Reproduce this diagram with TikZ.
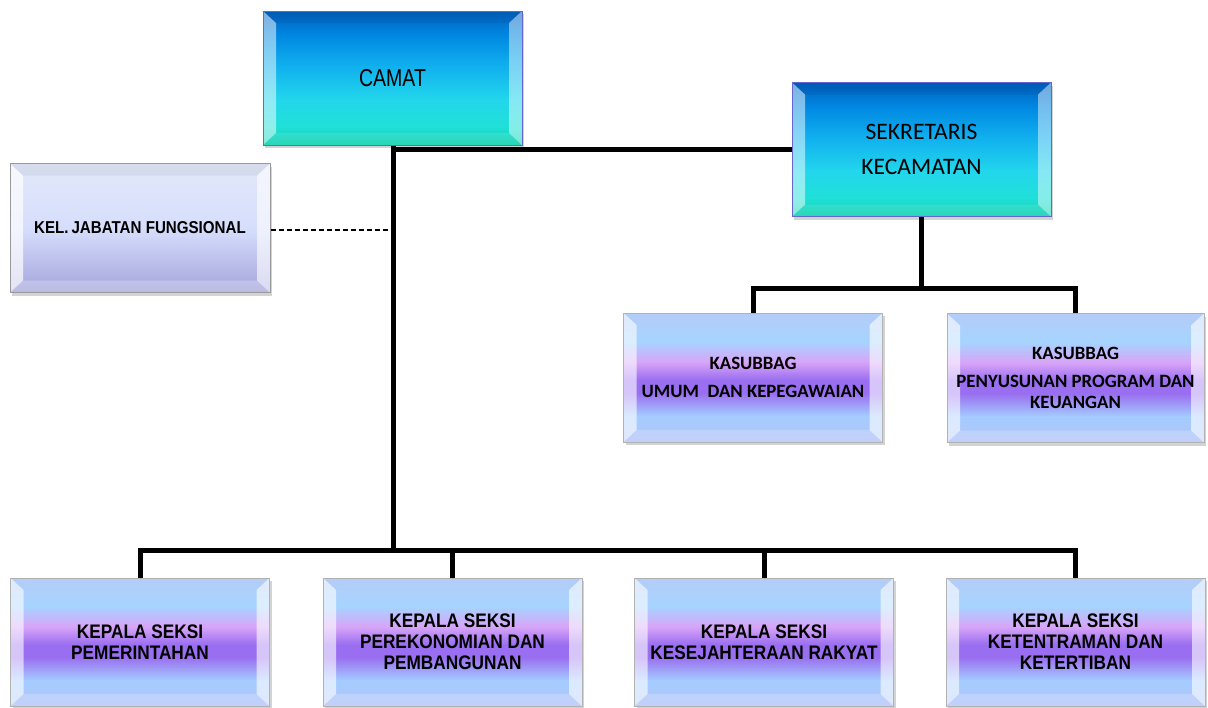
\documentclass[tikz,border=0pt]{standalone}
\usepackage{fontspec}
\setmainfont{Liberation Sans}
\newfontfamily\arialn[FakeStretch=0.8]{Liberation Sans}
\newfontfamily\arialbn[FakeStretch=0.88]{Liberation Sans Bold}
\newfontfamily\calib{Carlito}
\newfontfamily\calibb{Carlito Bold}
\usetikzlibrary{calc,shadows}
\definecolor{bB1}{HTML}{12D2AE}
\definecolor{bB2}{HTML}{20E0D8}
\definecolor{bB3}{HTML}{22D6EC}
\definecolor{bB4}{HTML}{10AEEE}
\definecolor{bB5}{HTML}{0088E2}
\definecolor{bB6}{HTML}{0060C0}
\definecolor{lv1}{HTML}{B4C4F8}
\definecolor{lv2}{HTML}{A4CCFF}
\definecolor{lv3}{HTML}{9A6EF0}
\definecolor{lv4}{HTML}{D8A4F8}
\definecolor{lv5}{HTML}{A6D4FF}
\definecolor{lv6}{HTML}{B4CCF8}
\definecolor{kl1}{HTML}{A4A4DC}
\definecolor{kl2}{HTML}{D6DEFC}
\definecolor{kl3}{HTML}{E2E8FA}
\pgfdeclareverticalshading{blueSh}{100bp}{color(0bp)=(bB1); color(25bp)=(bB1); color(32bp)=(bB2); color(42bp)=(bB3); color(55bp)=(bB4); color(66bp)=(bB5); color(75bp)=(bB6); color(100bp)=(bB6)}
\pgfdeclareverticalshading{lavSh}{100bp}{color(0bp)=(lv1); color(25bp)=(lv1); color(35bp)=(lv2); color(44bp)=(lv3); color(49bp)=(lv3); color(56bp)=(lv4); color(64bp)=(lv5); color(75bp)=(lv6); color(100bp)=(lv6)}
\pgfdeclareverticalshading{kelSh}{100bp}{color(0bp)=(kl1); color(25bp)=(kl1); color(50bp)=(kl2); color(75bp)=(kl3); color(100bp)=(kl3)}
\newcommand{\mybevel}[4]{%
  \path (path picture bounding box.north west) coordinate (bnw)
        (path picture bounding box.north east) coordinate (bne)
        (path picture bounding box.south west) coordinate (bsw)
        (path picture bounding box.south east) coordinate (bse);
  \path ($(bnw)+(6.5pt,-6pt)$) coordinate (inw)
        ($(bne)+(-6.5pt,-6pt)$) coordinate (ine)
        ($(bsw)+(6.5pt,6pt)$) coordinate (isw)
        ($(bse)+(-6.5pt,6pt)$) coordinate (ise);
  \fill[white,opacity=#1] (bnw) -- (bsw) -- (isw) -- (inw) -- cycle;
  \fill[white,opacity=#2] (bne) -- (bse) -- (ise) -- (ine) -- cycle;
  \fill[black,opacity=#3] (bnw) -- (bne) -- (ine) -- (inw) -- cycle;
  \fill[white,opacity=#4] (bsw) -- (bse) -- (ise) -- (isw) -- cycle;
}
\tikzset{
  boxbase/.style={rectangle, draw=black!35, line width=0.5pt, inner sep=0pt, align=center,
     drop shadow={opacity=0.35, shadow xshift=1.2pt, shadow yshift=-1.5pt}},
  bluebox/.style={boxbase, shading=blueSh, draw=black!30!blue!60, minimum width=129.5pt, minimum height=67pt,
     path picture={\mybevel{0.5}{0.45}{0.06}{0.1}}},
  lavbox/.style={boxbase, shading=lavSh, draw=black!30, minimum width=129.5pt, minimum height=64.5pt,
     path picture={\mybevel{0.6}{0.6}{0.0}{0.2}}},
  kelbox/.style={boxbase, shading=kelSh, draw=gray!80, minimum width=130pt, minimum height=64.5pt,
     path picture={\mybevel{0.7}{0.6}{0.05}{0.25}}},
  conn/.style={line width=2.5pt, black},
  dconn/.style={line width=0.7pt, black, dash pattern=on 2.5pt off 1.5pt},
  secttext/.style={font=\arialbn\fontsize{9.8}{10.5}\selectfont},
  subtext/.style={font=\calibb\fontsize{9.4}{10.4}\selectfont},
}
\begin{document}
\begin{tikzpicture}[x=0.5pt,y=-0.5pt]
\useasboundingbox (0,0) rectangle (1208,707);
% nodes
\node[bluebox, font=\arialn\fontsize{12.2}{14}\selectfont] (camat) at (392.5,78) {CAMAT};
\node[bluebox, font=\calib\fontsize{11.8}{17.5}\selectfont] (sek) at (921.5,149.5) {SEKRETARIS\\KECAMATAN};
\node[kelbox, font=\arialbn\fontsize{8.6}{9}\selectfont] (kel) at (140,228) {KEL.\,JABATAN FUNGSIONAL};
\node[lavbox, subtext] (ks1) at (753,377.5) {KASUBBAG\\[3.6pt]UMUM\ \ DAN KEPEGAWAIAN};
\node[lavbox, subtext, minimum width=128.5pt] (ks2) at (1075.5,378) {KASUBBAG\\[3.6pt]PENYUSUNAN PROGRAM DAN\\KEUANGAN};
\node[lavbox, secttext, minimum height=64pt] (s1) at (140,642) {KEPALA SEKSI\\PEMERINTAHAN};
\node[lavbox, secttext, minimum height=64pt] (s2) at (452.5,642) {KEPALA SEKSI\\PEREKONOMIAN DAN\\PEMBANGUNAN};
\node[lavbox, secttext, minimum height=64pt] (s3) at (764,642) {KEPALA SEKSI\\KESEJAHTERAAN RAKYAT};
\node[lavbox, secttext, minimum height=64pt, minimum width=129.5pt] (s4) at (1075.5,642) {KEPALA SEKSI\\KETENTRAMAN DAN\\KETERTIBAN};
% connector coordinates
\coordinate (bus) at (393,550);
\coordinate (sbus) at (921,288);
\coordinate (jab) at (390,230);
% connectors
\draw[conn] (camat.south -| bus) -- (bus);
\draw[conn] (bus |- sek.west) -- (sek.west);
\draw[dconn] (kel.east |- jab) -- (jab);
\draw[conn] (sek.south -| sbus) -- (sbus);
\draw[conn] (ks1.north) -- (ks1.north |- sbus) -- (ks2.north |- sbus) -- (ks2.north);
\draw[conn] (s1.north) -- (s1.north |- bus) -- (s4.north |- bus) -- (s4.north);
\draw[conn] (s2.north) -- (s2.north |- bus);
\draw[conn] (s3.north) -- (s3.north |- bus);
\end{tikzpicture}
\end{document}
